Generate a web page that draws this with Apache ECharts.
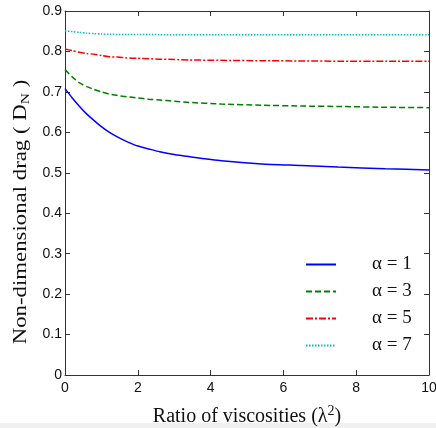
<!DOCTYPE html>
<html>
<head>
<meta charset="utf-8">
<script src="https://cdn.jsdelivr.net/npm/echarts@6/dist/echarts.min.js"></script>
<style>
html,body{margin:0;padding:0;background:#fff;}
#c{width:436px;height:428px;}
</style>
</head>
<body>
<div id="c"></div>
<script>
const xValues = [0,0.2,0.4,0.6,0.8,1.0,1.2,1.45,1.7,2.0,2.3,2.6,3.0,3.4,4.3,5.4,6.5,7.5,8.8,10];
const alpha1 = [0.708,0.685,0.664,0.645,0.629,0.614,0.601,0.588,0.577,0.566,0.559,0.552,0.545,0.540,0.530,0.522,0.518,0.514,0.510,0.507];
const alpha3 = [0.755,0.737,0.722,0.713,0.706,0.700,0.695,0.691,0.688,0.685,0.682,0.680,0.677,0.674,0.670,0.667,0.665,0.664,0.662,0.661];
const alpha5 = [0.806,0.802,0.798,0.795,0.793,0.790,0.787,0.786,0.784,0.783,0.782,0.781,0.780,0.779,0.778,0.777,0.7765,0.776,0.776,0.776];
const alpha7 = [0.851,0.849,0.847,0.845,0.844,0.843,0.8425,0.842,0.842,0.842,0.842,0.8415,0.8415,0.841,0.841,0.841,0.841,0.841,0.841,0.841];
const seriesNames = ['\u03b1 = 1','\u03b1 = 3','\u03b1 = 5','\u03b1 = 7'];
const xTicks = [0,2,4,6,8,10];
const yTicks = [0,0.1,0.2,0.3,0.4,0.5,0.6,0.7,0.8,0.9];

const colors = ['#0000ff','#008000','#ff0000','#00bfbf'];
const dashes = ['solid',[6,3],[7,2,2,2],[1.5,1.5]];
const allData = [alpha1,alpha3,alpha5,alpha7];
const serif = 'Times New Roman, Liberation Serif, serif';

const chart = echarts.init(document.getElementById('c'));
function axisCommon(){
  return {
    axisLine:{show:true,onZero:false,lineStyle:{color:'#333',width:1}},
    axisTick:{show:true,inside:true,length:5,lineStyle:{color:'#333'}},
    splitLine:{show:false}
  };
}
const tickFont = {fontFamily:'Arial, Liberation Sans, sans-serif',fontSize:14,color:'#111'};
chart.setOption({
  animation:false,
  backgroundColor:'#fff',
  grid:{left:65,right:7,top:11,bottom:53,outerBoundsMode:'none',containLabel:false},
  legend:{
    orient:'vertical',left:300,top:250,
    itemWidth:30,itemHeight:14,itemGap:8,
    data:seriesNames,
    itemStyle:{opacity:0},
    textStyle:{fontFamily:serif,fontSize:19,color:'#111',padding:[0,0,0,31]}
  },
  xAxis:[
    Object.assign({type:'value',min:0,max:10,interval:2,position:'bottom',
      name:'Ratio of viscosities (\u03bb{sup|2})',nameLocation:'middle',nameGap:29,
      nameTextStyle:{fontFamily:serif,fontSize:20,color:'#111',
        rich:{sup:{fontFamily:serif,fontSize:14,verticalAlign:'top',padding:[0,0,12,0],color:'#111'}}},
      axisLabel:Object.assign({margin:6},tickFont)},axisCommon()),
    Object.assign({type:'value',min:0,max:10,interval:2,position:'top',axisLabel:{show:false}},axisCommon())
  ],
  yAxis:[
    Object.assign({type:'value',min:0,max:0.9,interval:0.1,position:'left',
      axisLabel:Object.assign({margin:3,formatter:v=>String(Math.round(v*10)/10)},tickFont)},axisCommon()),
    Object.assign({type:'value',min:0,max:0.9,interval:0.1,position:'right',axisLabel:{show:false}},axisCommon())
  ],
  graphic:[
    {type:'rect',left:0,top:423,shape:{width:436,height:5},style:{fill:'#f0f0f0'},silent:true},
    {type:'text',x:21,y:212,rotation:Math.PI/2,scaleX:1.2,silent:true,
      style:{text:'Non-dimensional drag ( D{sub|N} )',fontFamily:serif,fontSize:19,fill:'#111',
        align:'center',verticalAlign:'middle',
        rich:{sub:{fontFamily:serif,fontSize:13,fill:'#111',verticalAlign:'bottom',padding:[9,0,0,0]}}}}
  ],
  series: allData.map((d,i)=>({
    name:seriesNames[i],type:'line',symbol:'none',xAxisIndex:0,yAxisIndex:0,
    data:xValues.map((x,j)=>[x,d[j]]),
    smooth:0.2,
    lineStyle:{color:colors[i],width:1.5,type:dashes[i]},
    itemStyle:{color:colors[i]}
  }))
});
</script>
</body>
</html>
